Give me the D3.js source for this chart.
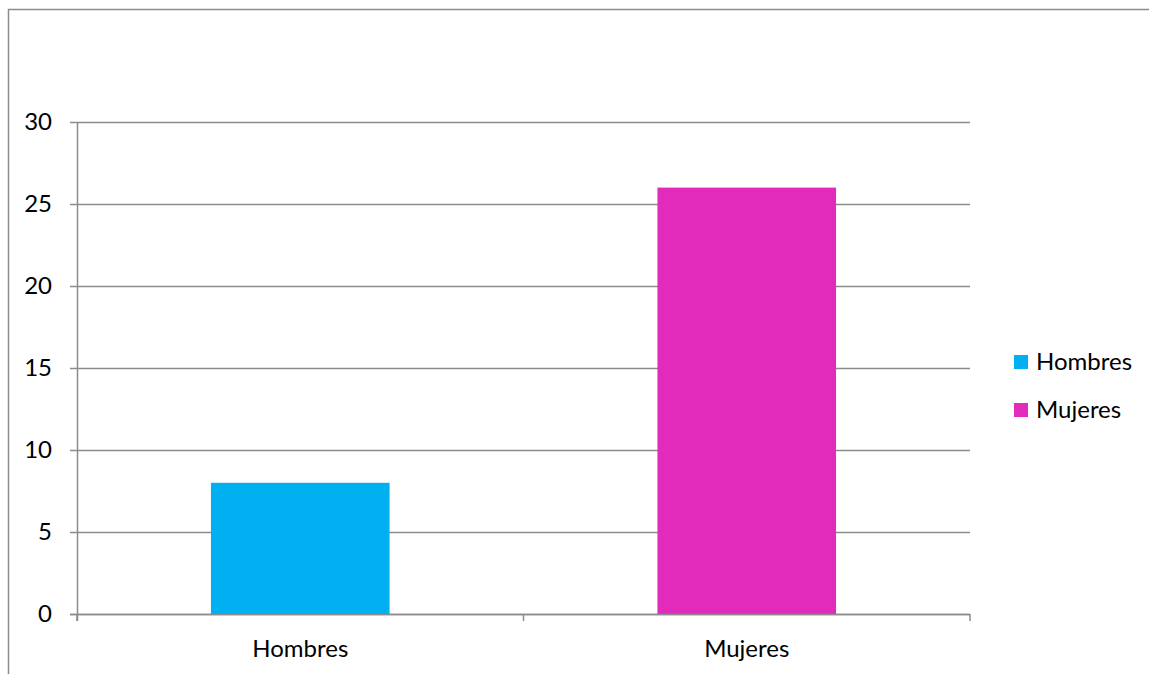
<!DOCTYPE html>
<html>
<head>
<meta charset="utf-8">
<script src="https://cdn.jsdelivr.net/npm/d3@7"></script>
<style>
  body { margin: 0; background: #fff; }
  svg { display: block; }
</style>
</head>
<body>
<svg id="chart"></svg>
<script>
// Chart data
const categories = ["Hombres", "Mujeres"];
const values = [8, 26];
const seriesColors = ["#00b0f0", "#e22bba"];
const yTicks = [0, 5, 10, 15, 20, 25, 30];

const W = 1149, H = 674;
const margin = { top: 122, right: 179, bottom: 60, left: 77 };
const width = W - margin.left - margin.right;
const height = H - margin.top - margin.bottom;
const font = "Lato, 'Open Sans', sans-serif";
const fontSize = "24px";

const svg = d3.select("#chart").attr("width", W).attr("height", H);

// Outer chart border (right/bottom run off the picture)
svg.append("rect")
  .attr("x", 8.5).attr("y", 9.5)
  .attr("width", 1300).attr("height", 800)
  .attr("fill", "none")
  .attr("stroke", "#8c8c8c")
  .attr("stroke-width", 1.5);

const g = svg.append("g").attr("transform", `translate(${margin.left},${margin.top})`);

const x = d3.scaleBand()
  .domain(categories)
  .range([0, width])
  .paddingInner(0.6)
  .paddingOuter(0.3);

const y = d3.scaleLinear().domain([0, 30]).range([height, 0]);

// Grid lines
g.append("g")
  .selectAll("line")
  .data(yTicks)
  .enter()
  .append("line")
  .attr("x1", -7)
  .attr("x2", width)
  .attr("y1", (d) => Math.round(y(d)) + 0.5)
  .attr("y2", (d) => Math.round(y(d)) + 0.5)
  .attr("stroke", "#8c8c8c")
  .attr("stroke-width", 1.5);

// Y axis labels
g.append("g")
  .selectAll("text")
  .data(yTicks)
  .enter()
  .append("text")
  .attr("x", -25)
  .attr("y", (d) => y(d))
  .attr("dy", "0.35em")
  .attr("text-anchor", "end")
  .style("font-family", font)
  .style("font-size", fontSize)
  .style("fill", "#000")
  .text((d) => d);

// Bars
g.selectAll(".bar")
  .data(categories)
  .enter()
  .append("rect")
  .attr("class", "bar")
  .attr("x", (d) => x(d))
  .attr("y", (d, i) => y(values[i]))
  .attr("width", x.bandwidth())
  .attr("height", (d, i) => height - y(values[i]))
  .attr("fill", (d, i) => seriesColors[i]);

// Axis lines
g.append("line")
  .attr("x1", 0.5).attr("x2", 0.5)
  .attr("y1", 0).attr("y2", height + 7)
  .attr("stroke", "#8c8c8c").attr("stroke-width", 1.5);

g.append("line")
  .attr("x1", -7).attr("x2", width)
  .attr("y1", height + 0.5).attr("y2", height + 0.5)
  .attr("stroke", "#8c8c8c").attr("stroke-width", 1.5);

// Category boundary ticks
g.append("g")
  .selectAll("line")
  .data(d3.range(categories.length + 1))
  .enter()
  .append("line")
  .attr("x1", (i) => i * width / categories.length)
  .attr("x2", (i) => i * width / categories.length)
  .attr("y1", height)
  .attr("y2", height + 7)
  .attr("stroke", "#8c8c8c").attr("stroke-width", 1.5);

// X labels
g.append("g")
  .selectAll("text")
  .data(categories)
  .enter()
  .append("text")
  .attr("x", (d) => x(d) + x.bandwidth() / 2)
  .attr("y", height + 43)
  .attr("text-anchor", "middle")
  .style("font-family", font)
  .style("font-size", fontSize)
  .style("fill", "#000")
  .text((d) => d);

// Legend
const legend = svg.append("g").attr("transform", "translate(1014, 362)");
categories.forEach((c, i) => {
  const item = legend.append("g").attr("transform", `translate(0, ${i * 48})`);
  item.append("rect")
    .attr("x", 0).attr("y", -7)
    .attr("width", 14).attr("height", 14)
    .attr("fill", seriesColors[i]);
  item.append("text")
    .attr("x", 22).attr("y", 0)
    .attr("dy", "0.35em")
    .style("font-family", font)
    .style("font-size", fontSize)
    .style("fill", "#000")
    .text(c);
});
</script>
</body>
</html>
